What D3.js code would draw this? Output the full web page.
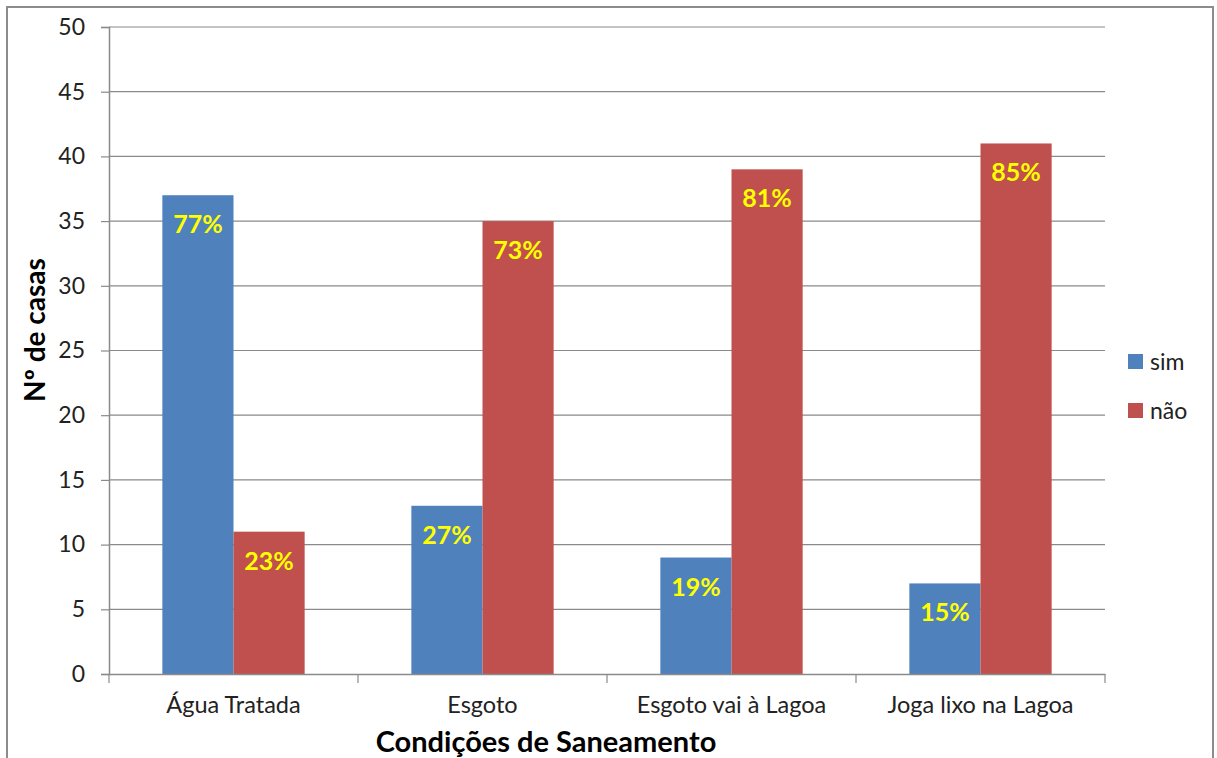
<!DOCTYPE html>
<html><head><meta charset="utf-8">
<script src="https://cdn.jsdelivr.net/npm/d3@7"></script>
<style>body{margin:0;background:#fff}svg{display:block}text{font-family:Lato,"Open Sans",sans-serif}</style>
</head><body>
<script>
const categories = ["Água Tratada", "Esgoto", "Esgoto vai à Lagoa", "Joga lixo na Lagoa"];
const seriesNames = ["sim", "não"];
const simValues = [37, 13, 9, 7];
const naoValues = [11, 35, 39, 41];
const simLabels = ["77%", "27%", "19%", "15%"];
const naoLabels = ["23%", "73%", "81%", "85%"];
const yTicks = [0, 5, 10, 15, 20, 25, 30, 35, 40, 45, 50];
const colors = ["#4F81BD", "#C0504D"];

const W = 1217, H = 758;
const svg = d3.select("body").append("svg").attr("width", W).attr("height", H);
svg.append("rect").attr("x", 7).attr("y", 7).attr("width", 1206).attr("height", 760)
  .attr("fill", "#fff").attr("stroke", "#8c8c8c").attr("stroke-width", 2);

const pLeft = 109, pRight = 1105, pTop = 27, pBottom = 674;
const x = d3.scaleBand().domain(categories).range([pLeft, pRight]).paddingInner(0).paddingOuter(0);
const y = d3.scaleLinear().domain([0, 50]).range([pBottom, pTop]);
const inner = d3.scaleBand().domain(seriesNames).range([0, x.bandwidth()]).paddingInner(0).paddingOuter(0.75);

// gridlines
svg.append("g").selectAll("line").data(yTicks.filter(d => d > 0)).join("line")
  .attr("x1", pLeft).attr("x2", pRight).attr("y1", d => y(d)).attr("y2", d => y(d))
  .attr("stroke", "#8a8a8a").attr("stroke-width", 1.2);

// y axis
const yAxis = svg.append("g").attr("transform", `translate(${pLeft},0)`)
  .call(d3.axisLeft(y).tickValues(yTicks).tickSize(8).tickPadding(16));
yAxis.select(".domain").attr("stroke", "#8a8a8a").attr("stroke-width", 1.5);
yAxis.selectAll(".tick line").attr("stroke", "#8a8a8a").attr("stroke-width", 1.2);
yAxis.selectAll(".tick text").attr("font-size", 23).attr("fill", "#222").attr("font-family", "Lato, sans-serif");

const data = categories.map((c, i) => ({c, vals: [
  {s: "sim", v: simValues[i], l: simLabels[i]},
  {s: "não", v: naoValues[i], l: naoLabels[i]}]}));

const groups = svg.append("g").selectAll("g").data(data).join("g")
  .attr("transform", d => `translate(${x(d.c)},0)`);
groups.selectAll("rect").data(d => d.vals).join("rect")
  .attr("x", d => inner(d.s)).attr("width", inner.bandwidth())
  .attr("y", d => y(d.v)).attr("height", d => y(0) - y(d.v))
  .attr("fill", (d, i) => colors[i]);
groups.selectAll("text").data(d => d.vals).join("text")
  .attr("x", d => inner(d.s) + inner.bandwidth() / 2)
  .attr("y", d => y(d.v) + 38)
  .attr("text-anchor", "middle").attr("font-size", 25).attr("font-weight", "bold")
  .attr("fill", "#FFFF00").text(d => d.l);

// x axis
const xAxis = svg.append("g").attr("transform", `translate(0,${pBottom})`)
  .call(d3.axisBottom(x).tickSize(0).tickPadding(22));
xAxis.select(".domain").attr("stroke", "#8a8a8a").attr("stroke-width", 1.5);
xAxis.selectAll(".tick text").attr("font-size", 23.5).attr("fill", "#222").attr("font-family", "Lato, sans-serif");
svg.append("g").selectAll("line").data(d3.range(categories.length + 1)).join("line")
  .attr("x1", i => pLeft + i * x.bandwidth()).attr("x2", i => pLeft + i * x.bandwidth())
  .attr("y1", pBottom).attr("y2", pBottom + 9).attr("stroke", "#8a8a8a").attr("stroke-width", 1.2);

// axis titles
svg.append("text").attr("x", 546).attr("y", 752).attr("text-anchor", "middle")
  .attr("font-size", 29).attr("font-weight", "bold").attr("fill", "#000").text("Condições de Saneamento");
svg.append("text").attr("transform", "translate(45,330) rotate(-90)").attr("text-anchor", "middle")
  .attr("font-size", 28).attr("font-weight", "bold").attr("fill", "#000").text("Nº de casas");

// legend
const leg = svg.append("g").selectAll("g").data(seriesNames).join("g")
  .attr("transform", (d, i) => `translate(1128,${354 + i * 49})`);
leg.append("rect").attr("width", 15).attr("height", 15).attr("fill", (d, i) => colors[i]);
leg.append("text").attr("x", 22).attr("y", 16).attr("font-size", 23).attr("fill", "#222").text(d => d);
</script>
</body></html>
